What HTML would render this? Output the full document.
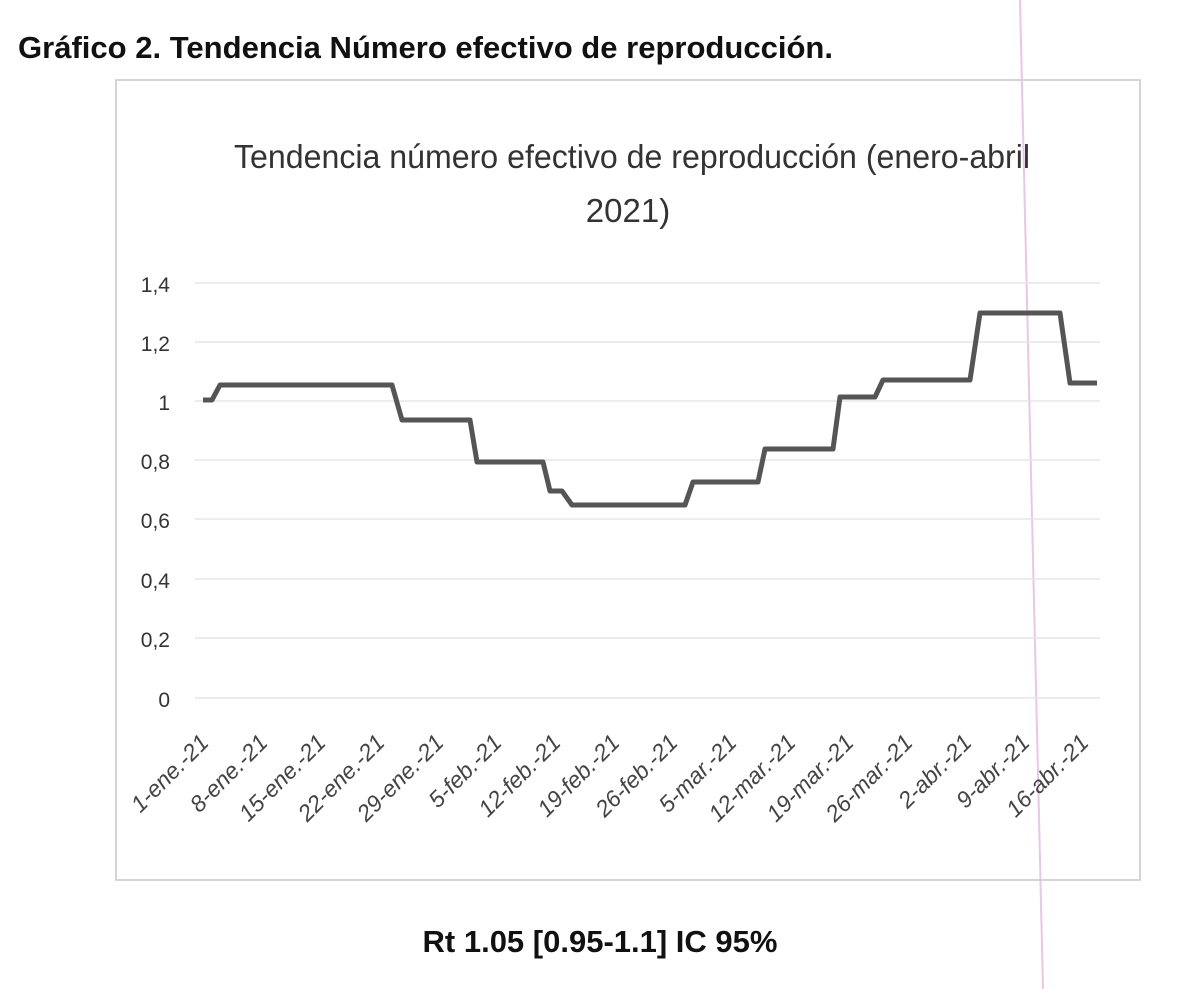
<!DOCTYPE html>
<html><head><meta charset="utf-8"><style>
html,body{margin:0;padding:0;background:#fff;}
svg{display:block}
</style></head><body>
<svg width="1197" height="989" viewBox="0 0 1197 989" xmlns="http://www.w3.org/2000/svg">
<rect width="1197" height="989" fill="#fff"/>
<line x1="1020" y1="0" x2="1043" y2="989" stroke="#e9c6e6" stroke-width="2"/>
<text x="18" y="58" font-family="Liberation Sans, sans-serif" font-weight="bold" font-size="31" fill="#111" textLength="815" lengthAdjust="spacingAndGlyphs">Gráfico 2. Tendencia Número efectivo de reproducción.</text>
<rect x="116" y="80" width="1024" height="800" fill="none" stroke="#d4d4d4" stroke-width="2"/>
<g font-family="Liberation Sans, sans-serif" font-size="33" fill="#333" text-anchor="middle">
<text x="632" y="168" textLength="796" lengthAdjust="spacingAndGlyphs">Tendencia número efectivo de reproducción (enero-abril</text>
<text x="628" y="222">2021)</text>
</g>
<g stroke="#e6e6e6" stroke-width="1.5">
<line x1="195" y1="283" x2="1100" y2="283"/>
<line x1="195" y1="342" x2="1100" y2="342"/>
<line x1="195" y1="401" x2="1100" y2="401"/>
<line x1="195" y1="460" x2="1100" y2="460"/>
<line x1="195" y1="519" x2="1100" y2="519"/>
<line x1="195" y1="579" x2="1100" y2="579"/>
<line x1="195" y1="638" x2="1100" y2="638"/>
<line x1="195" y1="698" x2="1100" y2="698"/>
</g>
<g font-family="Liberation Sans, sans-serif" font-size="21" fill="#333" text-anchor="end">
<text x="170" y="292">1,4</text><text x="170" y="351">1,2</text><text x="170" y="410">1</text>
<text x="170" y="469">0,8</text><text x="170" y="528">0,6</text><text x="170" y="588">0,4</text>
<text x="170" y="647">0,2</text><text x="170" y="707">0</text>
</g>
<polyline fill="none" stroke="#555" stroke-width="5" stroke-linejoin="round" points="203,400 212,400 220,385 392,385 402,420 470,420 477,462 543,462 550,491 562,491 572,505 685,505 693,482 758,482 765,449 833,449 840,397 875,397 883,380 970,380 980,313 1060,313 1070,383 1097,383"/>
<g font-family="Liberation Sans, sans-serif" font-size="23" font-style="italic" fill="#444" text-anchor="end">
<text transform="translate(210,744) rotate(-45)">1-ene.-21</text>
<text transform="translate(269,744) rotate(-45)">8-ene.-21</text>
<text transform="translate(327,744) rotate(-45)">15-ene.-21</text>
<text transform="translate(386,744) rotate(-45)">22-ene.-21</text>
<text transform="translate(445,744) rotate(-45)">29-ene.-21</text>
<text transform="translate(503,744) rotate(-45)">5-feb.-21</text>
<text transform="translate(562,744) rotate(-45)">12-feb.-21</text>
<text transform="translate(621,744) rotate(-45)">19-feb.-21</text>
<text transform="translate(679,744) rotate(-45)">26-feb.-21</text>
<text transform="translate(738,744) rotate(-45)">5-mar.-21</text>
<text transform="translate(797,744) rotate(-45)">12-mar.-21</text>
<text transform="translate(855,744) rotate(-45)">19-mar.-21</text>
<text transform="translate(914,744) rotate(-45)">26-mar.-21</text>
<text transform="translate(973,744) rotate(-45)">2-abr.-21</text>
<text transform="translate(1031,744) rotate(-45)">9-abr.-21</text>
<text transform="translate(1090,744) rotate(-45)">16-abr.-21</text>
</g>
<text x="600" y="952" font-family="Liberation Sans, sans-serif" font-weight="bold" font-size="31" fill="#111" text-anchor="middle">Rt 1.05 [0.95-1.1] IC 95%</text>
</svg>
</body></html>
